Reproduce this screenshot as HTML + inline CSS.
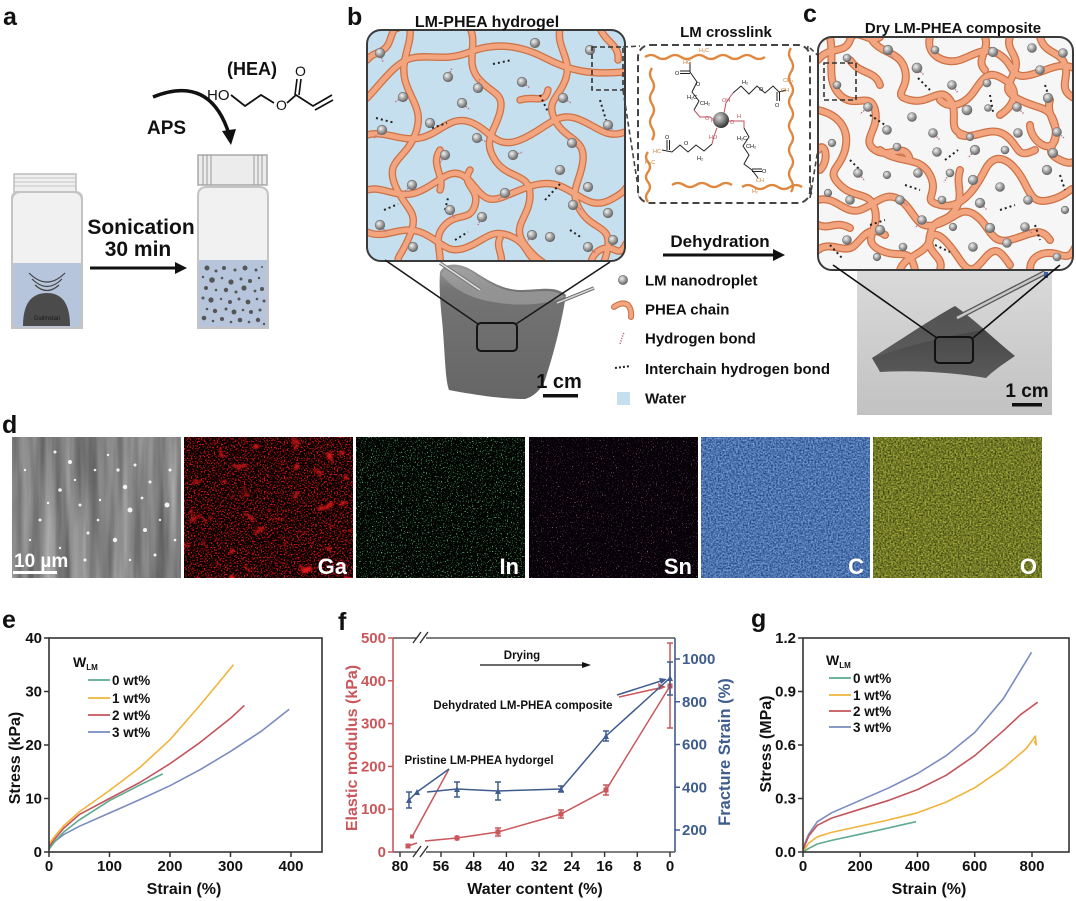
<!DOCTYPE html>
<html><head><meta charset="utf-8">
<style>
html,body{margin:0;padding:0;background:#fff;}
svg{display:block;}
text{font-family:"Liberation Sans",Arial,sans-serif;font-weight:bold;fill:#111;}
.ch{font-weight:normal;font-size:5.5px;}
</style></head>
<body>
<svg width="1076" height="901" viewBox="0 0 1076 901" xmlns="http://www.w3.org/2000/svg">
<defs>
<radialGradient id="sg" cx="0.38" cy="0.35" r="0.65">
<stop offset="0" stop-color="#f2f2f2"/><stop offset="0.55" stop-color="#a4a4a4"/><stop offset="1" stop-color="#666"/>
</radialGradient>
<radialGradient id="sg2" cx="0.38" cy="0.35" r="0.65">
<stop offset="0" stop-color="#d8d8d8"/><stop offset="0.5" stop-color="#888"/><stop offset="1" stop-color="#333"/>
</radialGradient>
<linearGradient id="gelg" x1="0" y1="0" x2="0" y2="1">
<stop offset="0" stop-color="#9c9c9c"/><stop offset="0.18" stop-color="#747474"/><stop offset="1" stop-color="#666"/>
</linearGradient>
<linearGradient id="phc" x1="0" y1="0" x2="0" y2="1">
<stop offset="0" stop-color="#dadada"/><stop offset="1" stop-color="#c2c2c2"/>
</linearGradient>
<linearGradient id="film" x1="0" y1="0" x2="0" y2="1">
<stop offset="0" stop-color="#3e3e3e"/><stop offset="1" stop-color="#5a5a5a"/>
</linearGradient>
<clipPath id="cb"><rect x="367" y="30" width="258" height="231" rx="14"/></clipPath>
<clipPath id="cc"><rect x="818" y="37" width="255" height="233" rx="14"/></clipPath>

<filter id="fSem" x="0" y="0" width="1" height="1" color-interpolation-filters="sRGB">
<feTurbulence type="fractalNoise" baseFrequency="0.09 0.006" numOctaves="3" seed="4"/>
<feColorMatrix type="matrix" values="0.45 0 0 0 0.29  0.45 0 0 0 0.29  0.45 0 0 0 0.29  0 0 0 0 1"/>
</filter>
<filter id="fGa" x="0" y="0" width="1" height="1" color-interpolation-filters="sRGB">
<feTurbulence type="fractalNoise" baseFrequency="0.7" numOctaves="1" seed="7" result="a"/>
<feColorMatrix in="a" type="matrix" values="0 0 0 0 0.85  0 0 0 0 0.08  0 0 0 0 0.1  6 0 0 0 -3.05" result="a2"/>
<feTurbulence type="fractalNoise" baseFrequency="0.08" numOctaves="2" seed="11" result="b"/>
<feColorMatrix in="b" type="matrix" values="0 0 0 0 0.9  0 0 0 0 0.1  0 0 0 0 0.1  5 0 0 0 -3.25" result="b2"/>
<feMerge><feMergeNode in="b2"/><feMergeNode in="a2"/></feMerge>
</filter>
<filter id="fIn" x="0" y="0" width="1" height="1" color-interpolation-filters="sRGB">
<feTurbulence type="fractalNoise" baseFrequency="0.8" numOctaves="1" seed="3"/>
<feColorMatrix type="matrix" values="0 0 0 0 0.4  0 0 0 0 0.8  0 0 0 0 0.5  7 0 0 0 -4.2"/>
</filter>
<filter id="fSn" x="0" y="0" width="1" height="1" color-interpolation-filters="sRGB">
<feTurbulence type="fractalNoise" baseFrequency="0.8" numOctaves="1" seed="9"/>
<feColorMatrix type="matrix" values="0 0 0 0 0.75  0 0 0 0 0.45  0 0 0 0 0.75  7 0 0 0 -4.5"/>
</filter>
<filter id="fC" x="0" y="0" width="1" height="1" color-interpolation-filters="sRGB">
<feTurbulence type="fractalNoise" baseFrequency="0.6" numOctaves="2" seed="5"/>
<feColorMatrix type="matrix" values="0.6 0 0 0 0  0.7 0 0 0 0.1  0.8 0 0 0 0.28  0 0 0 0 1"/>
</filter>
<filter id="fO" x="0" y="0" width="1" height="1" color-interpolation-filters="sRGB">
<feTurbulence type="fractalNoise" baseFrequency="0.6" numOctaves="2" seed="13"/>
<feColorMatrix type="matrix" values="0.85 0 0 0 0.02  0.85 0 0 0 0.05  0.3 0 0 0 0  0 0 0 0 1"/>
</filter>

<g id="netB">
<path d="M367,98 C380,85 395,62 412,58 S445,62 470,52 S520,45 545,58 S590,75 625,72"/>
<path d="M410,28 C412,45 400,60 405,80 S425,110 415,135 S385,160 395,185 S420,210 410,235 S395,255 400,267"/>
<path d="M367,135 C385,130 400,142 420,138 S450,115 470,122 S495,150 520,140 S555,112 575,118 S605,140 625,132"/>
<path d="M470,28 C478,45 465,62 478,78 S505,92 500,112 S482,140 495,160 S530,172 530,195 S510,225 525,245 S548,262 545,267"/>
<path d="M367,190 C382,185 398,200 418,192 S448,168 462,175 S480,205 500,198 S540,178 560,186 S590,210 610,200 S625,185 630,185"/>
<path d="M560,28 C556,48 572,58 566,78 S545,100 555,120 S585,138 583,160 S568,190 580,210 S610,225 608,245 S600,262 605,267"/>
<path d="M367,232 C385,240 400,225 420,232 S445,255 465,248 S490,228 510,236 S525,258 540,262"/>
<path d="M440,267 C442,250 432,238 445,225 S470,222 475,205 S460,185 470,170"/>
<path d="M590,267 C592,250 605,245 615,250 S625,240 630,240"/>
<path d="M600,28 C605,42 620,45 618,60"/>
<path d="M367,60 C375,50 385,55 390,40 S395,30 398,28"/>
<path d="M520,100 C535,95 545,105 548,90"/>
<path d="M440,150 C430,165 445,175 440,190"/>
<path d="M500,267 C505,255 495,248 500,238"/>
</g>
<g id="netC">
<path d="M818,60 C830,45 845,55 850,40 S870,45 880,37"/>
<path d="M830,37 C835,60 825,80 840,95 S870,90 875,110 S860,140 875,150 S905,140 910,160"/>
<path d="M870,37 C880,55 900,50 905,70 S890,95 910,100 S940,85 950,100 S945,130 965,135"/>
<path d="M930,37 C925,55 945,65 960,60 S985,45 1000,55 S1010,80 1030,75 S1060,60 1078,70"/>
<path d="M1010,37 C1005,50 1020,55 1015,70 S1000,90 1020,100 S1050,105 1055,125 S1040,150 1060,160 S1078,150 1078,150"/>
<path d="M818,110 C840,115 850,130 845,150 S825,170 840,185 S870,190 875,210 S860,240 880,250 S910,245 915,270"/>
<path d="M818,200 C835,195 845,215 860,210 S885,190 900,200 S915,230 935,225 S960,205 975,215 S990,245 1010,240 S1040,225 1050,240"/>
<path d="M880,150 C900,165 920,155 930,175 S920,200 940,205 S975,190 985,170 S1010,160 1020,175 S1030,205 1050,200 S1070,185 1078,190"/>
<path d="M960,135 C975,140 990,125 1005,135 S1015,160 1035,150"/>
<path d="M818,250 C830,240 845,255 855,245 S870,225 885,235"/>
<path d="M900,270 C905,255 925,255 930,240 S950,245 960,260 S975,270 985,258 S1000,250 1010,265"/>
<path d="M1030,270 C1030,255 1045,250 1060,255 S1073,245 1078,245"/>
<path d="M940,100 C950,110 965,105 975,90 S990,70 1005,80 S1015,105 1000,115"/>
<path d="M850,60 C860,75 875,70 880,85"/>
<path d="M1040,37 C1045,55 1060,50 1065,65 S1055,90 1078,100"/>
<path d="M818,150 C825,140 830,160 820,170"/>
<path d="M960,170 C955,185 965,195 955,210 S935,215 930,235 S945,255 940,270"/>
<path d="M1050,100 C1045,115 1060,125 1055,140 S1030,140 1030,125"/>
<path d="M985,37 C990,50 975,60 985,70"/>
<path d="M818,225 C830,230 835,220 850,228"/>
</g>
</defs>

<!-- ========== PANEL A ========== -->
<text x="3" y="25" font-size="25">a</text>
<text x="227" y="75" font-size="18">(HEA)</text>
<text x="207" y="100" font-size="15" style="font-weight:normal">HO</text>
<polyline points="231,95 245,106 261,95 274,103" fill="none" stroke="#111" stroke-width="1.8"/>
<text x="276" y="110" font-size="14" style="font-weight:normal">O</text>
<polyline points="287,103 296,95 313,106 332,95" fill="none" stroke="#111" stroke-width="1.8"/>
<line x1="295" y1="95" x2="297" y2="79" stroke="#111" stroke-width="1.6"/>
<line x1="299" y1="95" x2="301" y2="79" stroke="#111" stroke-width="1.6"/>
<text x="295" y="76" font-size="14" style="font-weight:normal">O</text>
<line x1="315" y1="110" x2="333" y2="100" stroke="#111" stroke-width="1.6"/>
<path d="M153,97 Q210,74 229,134" fill="none" stroke="#111" stroke-width="3.5"/>
<polygon points="222,131 236,129 231,145" fill="#111"/>
<text x="147" y="134" font-size="19">APS</text>

<!-- vial 1 -->
<rect x="14" y="174" width="62" height="18" fill="#efefef" stroke="#bdbdbd" stroke-width="1.5"/>
<line x1="14" y1="178" x2="76" y2="178" stroke="#c4c4c4"/>
<line x1="14" y1="182" x2="76" y2="182" stroke="#c4c4c4"/>
<line x1="14" y1="186" x2="76" y2="186" stroke="#c4c4c4"/>
<path d="M12,201 Q12,192 21,192 L73,192 Q82,192 82,201 L82,328 L12,328 Z" fill="#f1f1f1" stroke="#c4c4c4" stroke-width="2"/>
<rect x="13" y="263" width="68" height="64" fill="#b6c5dc"/>
<path d="M23,326 Q23,293 47,293 Q70,293 70,326 Z" fill="#4b4b4b"/>
<text x="47" y="320" font-size="6" text-anchor="middle" style="font-weight:normal;fill:#1a1a1a">Gallinstan</text>
<path d="M29,273 Q47,291 65,273" fill="none" stroke="#444" stroke-width="1.2"/>
<path d="M32,279 Q47,294 62,279" fill="none" stroke="#444" stroke-width="1.2"/>
<path d="M35,285 Q47,296 59,285" fill="none" stroke="#444" stroke-width="1.2"/>
<rect x="12" y="192" width="70" height="136" fill="none" stroke="#c4c4c4" stroke-width="2" rx="6"/>

<!-- arrow sonication -->
<line x1="90" y1="268" x2="177" y2="268" stroke="#111" stroke-width="3"/>
<polygon points="175,262 187,268 175,274" fill="#111"/>
<text x="141" y="234" font-size="21" text-anchor="middle">Sonication</text>
<text x="138" y="256" font-size="21" text-anchor="middle">30 min</text>

<!-- vial 2 -->
<rect x="198" y="155" width="69" height="30" fill="#ececec" stroke="#a8a8a8" stroke-width="1.5"/>
<g stroke="#9a9a9a" stroke-width="1">
<line x1="203" y1="155" x2="203" y2="185"/><line x1="207" y1="155" x2="207" y2="185"/><line x1="211" y1="155" x2="211" y2="185"/>
<line x1="254" y1="155" x2="254" y2="185"/><line x1="258" y1="155" x2="258" y2="185"/><line x1="262" y1="155" x2="262" y2="185"/>
</g>
<path d="M198,196 Q198,187 207,187 L259,187 Q268,187 268,196 L268,328 L198,328 Z" fill="#f1f1f1" stroke="#c4c4c4" stroke-width="2"/>
<rect x="199" y="260" width="68" height="67" fill="#b6c5dc"/>
<g fill="#555">
<circle cx="207" cy="268" r="2.5"/><circle cx="216" cy="271" r="1.5"/><circle cx="224" cy="268" r="2"/><circle cx="235" cy="270" r="1.5"/><circle cx="245" cy="268" r="2.5"/><circle cx="256" cy="270" r="1.5"/><circle cx="262" cy="267" r="1"/>
<circle cx="203" cy="277" r="1.2"/><circle cx="212" cy="280" r="2.8"/><circle cx="222" cy="278" r="1.3"/><circle cx="231" cy="282" r="2.6"/><circle cx="241" cy="279" r="1.5"/><circle cx="250" cy="281" r="2"/><circle cx="259" cy="278" r="1.2"/>
<circle cx="206" cy="288" r="2"/><circle cx="216" cy="290" r="1.3"/><circle cx="226" cy="290" r="2.2"/><circle cx="236" cy="292" r="1.5"/><circle cx="244" cy="288" r="2.6"/><circle cx="255" cy="291" r="1.4"/><circle cx="262" cy="289" r="2"/>
<circle cx="203" cy="298" r="1.5"/><circle cx="211" cy="300" r="2.6"/><circle cx="221" cy="299" r="1.2"/><circle cx="230" cy="302" r="2"/><circle cx="239" cy="299" r="1.5"/><circle cx="248" cy="302" r="2.4"/><circle cx="257" cy="299" r="1.3"/><circle cx="264" cy="301" r="1.5"/>
<circle cx="207" cy="309" r="1.3"/><circle cx="215" cy="311" r="2.2"/><circle cx="226" cy="309" r="1.5"/><circle cx="234" cy="312" r="2.5"/><circle cx="243" cy="310" r="1.3"/><circle cx="251" cy="312" r="2"/><circle cx="260" cy="310" r="1.5"/>
<circle cx="204" cy="318" r="2.3"/><circle cx="213" cy="321" r="1.3"/><circle cx="222" cy="319" r="2"/><circle cx="231" cy="322" r="1.3"/><circle cx="240" cy="320" r="2.3"/><circle cx="249" cy="322" r="1.3"/><circle cx="258" cy="320" r="2.2"/><circle cx="264" cy="324" r="1.2"/>
</g>

<!-- ========== PANEL B ========== -->
<text x="347" y="25" font-size="25">b</text>

<!-- gel photo -->
<path d="M440,272 C445,262 460,262 475,272 C490,282 505,290 520,290 C540,290 555,285 566,295 C562,320 555,350 545,380 C540,392 532,397 525,399 C500,399 470,394 449,390 C445,380 445,350 442,320 C440,300 439,285 440,272 Z" fill="url(#gelg)"/>
<path d="M441,274 C447,265 460,265 475,274 C490,284 505,292 520,292 C540,292 555,288 565,297 C545,305 520,306 500,303 C475,300 455,292 441,274 Z" fill="#a8a8a8" opacity="0.6"/>
<line x1="440" y1="263" x2="480" y2="290" stroke="#777" stroke-width="3.5"/>
<line x1="440" y1="263" x2="480" y2="290" stroke="#e0e0e0" stroke-width="1.6"/>
<line x1="594" y1="288" x2="557" y2="303" stroke="#666" stroke-width="3.5"/>
<line x1="594" y1="288" x2="557" y2="303" stroke="#d6d6d6" stroke-width="1.6"/>

<rect x="367" y="30" width="258" height="231" rx="14" fill="#c6dfee"/>
<g clip-path="url(#cb)">
<use href="#netB" fill="none" stroke="#cc7246" stroke-width="7.5" stroke-linecap="round"/>
<use href="#netB" fill="none" stroke="#f3a580" stroke-width="5" stroke-linecap="round"/>
<g stroke="#b9788c" stroke-width="1.6" stroke-dasharray="1.3 1.3">
<line x1="380" y1="53" x2="383" y2="62"/><line x1="448" y1="77" x2="452" y2="68"/><line x1="403" y1="97" x2="395" y2="102"/>
<line x1="478" y1="88" x2="480" y2="79"/><line x1="522" y1="82" x2="530" y2="88"/><line x1="563" y1="98" x2="571" y2="103"/>
<line x1="462" y1="103" x2="470" y2="110"/><line x1="382" y1="130" x2="374" y2="138"/><line x1="477" y1="138" x2="487" y2="142"/>
<line x1="572" y1="143" x2="580" y2="150"/><line x1="445" y1="155" x2="440" y2="163"/><line x1="513" y1="155" x2="523" y2="152"/>
<line x1="412" y1="185" x2="404" y2="192"/><line x1="505" y1="193" x2="498" y2="200"/><line x1="450" y1="210" x2="455" y2="219"/>
<line x1="573" y1="205" x2="582" y2="210"/><line x1="380" y1="225" x2="387" y2="233"/><line x1="482" y1="217" x2="478" y2="225"/>
<line x1="532" y1="235" x2="526" y2="243"/><line x1="588" y1="247" x2="596" y2="253"/><line x1="608" y1="125" x2="615" y2="132"/>
</g>
<g stroke="#222" stroke-width="2" stroke-dasharray="2 3">
<line x1="493" y1="64" x2="512" y2="60"/><line x1="376" y1="118" x2="395" y2="123"/><line x1="540" y1="95" x2="548" y2="112"/>
<line x1="432" y1="128" x2="447" y2="123"/><line x1="600" y1="100" x2="606" y2="120"/><line x1="545" y1="200" x2="560" y2="184"/>
<line x1="384" y1="210" x2="398" y2="204"/><line x1="455" y1="240" x2="468" y2="232"/><line x1="570" y1="230" x2="582" y2="238"/>
<line x1="445" y1="210" x2="448" y2="198"/>
</g>
<g fill="url(#sg)" stroke="#6a6a6a" stroke-width="0.6">
<circle cx="380" cy="53" r="4.8"/><circle cx="535" cy="43" r="4.8"/><circle cx="448" cy="77" r="4.8"/><circle cx="403" cy="97" r="4.8"/>
<circle cx="478" cy="88" r="4.8"/><circle cx="522" cy="82" r="4.8"/><circle cx="563" cy="98" r="4.8"/><circle cx="462" cy="103" r="4.8"/>
<circle cx="382" cy="130" r="4.8"/><circle cx="430" cy="123" r="4.8"/><circle cx="477" cy="138" r="4.8"/><circle cx="572" cy="143" r="4.8"/>
<circle cx="608" cy="125" r="4.8"/><circle cx="445" cy="155" r="4.8"/><circle cx="513" cy="155" r="4.8"/><circle cx="412" cy="185" r="4.8"/>
<circle cx="505" cy="193" r="4.8"/><circle cx="450" cy="210" r="4.8"/><circle cx="573" cy="205" r="4.8"/><circle cx="588" cy="187" r="4.8"/>
<circle cx="380" cy="225" r="4.8"/><circle cx="413" cy="247" r="4.8"/><circle cx="482" cy="217" r="4.8"/><circle cx="532" cy="235" r="4.8"/>
<circle cx="550" cy="237" r="4.8"/><circle cx="588" cy="247" r="4.8"/><circle cx="613" cy="240" r="4.8"/><circle cx="560" cy="170" r="4.8"/>
<circle cx="608" cy="213" r="4.8"/><circle cx="590" cy="50" r="4.8"/>
</g>
<rect x="592" y="47" width="31" height="43" fill="none" stroke="#333" stroke-width="1.6" stroke-dasharray="5 3"/>
</g>
<rect x="367" y="30" width="258" height="231" rx="14" fill="none" stroke="#3a3a3a" stroke-width="2"/>
<rect x="420" y="12" width="134" height="17" fill="#fff"/>
<text x="487" y="27" font-size="16" text-anchor="middle">LM-PHEA hydrogel</text>
<line x1="385" y1="260" x2="478" y2="324" stroke="#1a1a1a" stroke-width="1.6"/>
<line x1="610" y1="262" x2="516" y2="324" stroke="#1a1a1a" stroke-width="1.6"/>
<rect x="477" y="323" width="40" height="28" rx="4" fill="none" stroke="#151515" stroke-width="2"/>
<text x="559" y="388" font-size="20" text-anchor="middle">1 cm</text>
<rect x="543" y="394" width="35" height="3.5" fill="#111"/>

<!-- crosslink -->
<text x="726" y="37" font-size="15" text-anchor="middle">LM crosslink</text>
<line x1="623" y1="47" x2="640" y2="46" stroke="#444" stroke-width="1.6" stroke-dasharray="5 3"/>
<line x1="623" y1="90" x2="640" y2="200" stroke="#444" stroke-width="1.6" stroke-dasharray="5 3"/>
<path d="M808,46 Q798,120 812,197" fill="none" stroke="#444" stroke-width="1.6" stroke-dasharray="5 3"/>
<line x1="810" y1="48" x2="826" y2="63" stroke="#444" stroke-width="1.6" stroke-dasharray="5 3"/>
<line x1="810" y1="198" x2="826" y2="100" stroke="#444" stroke-width="1.6" stroke-dasharray="5 3"/>
<rect x="638" y="45" width="172" height="158" rx="12" fill="#fff" stroke="#444" stroke-width="2" stroke-dasharray="7 4"/>
<g fill="none" stroke="#e0873f" stroke-width="2.3">
<path d="M645,57 q6,-4 12,0 t12,0 t12,0 t12,0 t12,0 t12,0 t12,0 t12,0 t12,0 t12,0"/>
<path d="M791,48 q-4,6 0,12 t0,12 t0,12 t0,12 t0,12 t0,12 t0,12 t0,12 t0,12 t0,12 t0,12 t0,12"/>
<path d="M652,68 q-4,6 0,12 t0,12 t0,12 t0,12 t0,12 t0,12"/>
<path d="M648,152 q-4,5 0,10 t0,10 t0,10 t0,10 t0,10"/>
<path d="M672,185 q6,-4 12,0 t12,0 t12,0 t12,0 t12,0"/>
<path d="M742,187 q6,-4 12,0 t12,0 t12,0 t12,0 t12,0"/>
</g>
<g fill="none" stroke="#222" stroke-width="1">
<polyline points="690,62 690,72 697,82 692,92 699,101 694,110"/>
<line x1="680" y1="71" x2="690" y2="71"/><line x1="680" y1="73.5" x2="690" y2="73.5"/>
<polyline points="733,93 741,86 749,94 757,86 765,93 773,86 779,92 786,90"/>
<line x1="777" y1="92" x2="777" y2="101"/><line x1="779.5" y1="92" x2="779.5" y2="101"/>
<polyline points="744,128 749,137 743,146 749,155 744,164 752,170 758,178"/>
<line x1="752" y1="169" x2="762" y2="169"/><line x1="752" y1="171.5" x2="762" y2="171.5"/>
<polyline points="712,144 704,151 696,145 688,152 680,145 672,152 662,150"/>
<line x1="667" y1="140" x2="667" y2="150"/><line x1="669.5" y1="140" x2="669.5" y2="150"/>
</g>
<g fill="none" stroke="#c05060" stroke-width="1">
<polyline points="694,110 700,117 710,117 714,120"/>
<polyline points="724,113 726,103 730,97 733,93"/>
<polyline points="729,121 738,121 744,121 744,128"/>
<polyline points="717,128 714,136 712,144"/>
</g>
<circle cx="721" cy="120" r="8" fill="url(#sg2)"/>
<g class="ch">
<text x="683" y="64" class="ch" style="fill:#d0802f">HC</text>
<text x="699" y="52" class="ch" style="fill:#d0802f">H₂C</text>
<text x="783" y="82" class="ch" style="fill:#d0802f">CH₃</text>
<text x="781" y="92" class="ch" style="fill:#d0802f">CH</text>
<text x="653" y="153" class="ch" style="fill:#d0802f">HC</text>
<text x="645" y="164" class="ch" style="fill:#d0802f">H₃C</text>
<text x="756" y="182" class="ch" style="fill:#d0802f">CH</text>
<text x="752" y="193" class="ch" style="fill:#d0802f">H₂</text>
<text x="675" y="75" class="ch">O</text>
<text x="696" y="86" class="ch">O</text>
<text x="687" y="99" class="ch">H₂C</text>
<text x="700" y="105" class="ch">CH₂</text>
<text x="742" y="84" class="ch">H₂</text>
<text x="759" y="91" class="ch">O</text>
<text x="775" y="107" class="ch">O</text>
<text x="746" y="148" class="ch">CH₂</text>
<text x="737" y="140" class="ch">H₂C</text>
<text x="762" y="173" class="ch">O</text>
<text x="697" y="160" class="ch">H₂</text>
<text x="665" y="139" class="ch">O</text>
<text x="684" y="145" class="ch">O</text>
<text x="711" y="122" class="ch" style="fill:#c05060">H</text>
<text x="705" y="120" class="ch" style="fill:#c05060">O</text>
<text x="722" y="102" class="ch" style="fill:#c05060">OH</text>
<text x="730" y="124" class="ch" style="fill:#c05060">O</text>
<text x="737" y="118" class="ch" style="fill:#c05060">H</text>
<text x="709" y="139" class="ch" style="fill:#c05060">HO</text>
</g>

<text x="720" y="247" font-size="17" text-anchor="middle">Dehydration</text>
<line x1="663" y1="255" x2="775" y2="255" stroke="#111" stroke-width="3"/>
<polygon points="773,249 785,255 773,261" fill="#111"/>

<!-- legend -->
<circle cx="623" cy="280" r="4.6" fill="url(#sg)" stroke="#666" stroke-width="0.6"/>
<text x="645" y="285.5" font-size="15">LM nanodroplet</text>
<path d="M614,307 Q622,301 628,305 Q632,310 631,317" fill="none" stroke="#cc7246" stroke-width="6" stroke-linecap="round"/>
<path d="M614,307 Q622,301 628,305 Q632,310 631,317" fill="none" stroke="#f3a580" stroke-width="3.8" stroke-linecap="round"/>
<text x="645" y="314.5" font-size="15">PHEA chain</text>
<line x1="620" y1="344" x2="624" y2="332" stroke="#b9788c" stroke-width="1.6" stroke-dasharray="1.3 1.3"/>
<text x="645" y="343.5" font-size="15">Hydrogen bond</text>
<line x1="615" y1="368" x2="631" y2="366" stroke="#222" stroke-width="2" stroke-dasharray="2 2"/>
<text x="645" y="374" font-size="15">Interchain hydrogen bond</text>
<rect x="617" y="392" width="13" height="13" fill="#c6dfee"/>
<text x="645" y="403.5" font-size="15">Water</text>

<!-- ========== PANEL C ========== -->
<text x="803" y="22" font-size="25">c</text>
<text x="953" y="33" font-size="15" text-anchor="middle">Dry LM-PHEA composite</text>
<rect x="857" y="268" width="195" height="147" fill="url(#phc)"/>
<path d="M872,358 C900,340 930,320 955,306 C975,320 995,340 1015,356 C1003,364 993,371 986,378 C950,372 912,370 880,372 C877,366 874,362 872,358 Z" fill="url(#film)"/>
<path d="M872,358 C900,340 930,320 955,306 C965,313 975,321 985,330 C950,335 910,345 872,358 Z" fill="#666" opacity="0.5"/>
<line x1="957" y1="318" x2="1046" y2="272" stroke="#555" stroke-width="5"/>
<line x1="957" y1="318" x2="1046" y2="272" stroke="#c8c8c8" stroke-width="2.5"/>
<rect x="1044" y="272" width="4" height="6" fill="#3b5fa0"/>
<rect x="818" y="37" width="255" height="233" rx="14" fill="#f6f6f6"/>
<g clip-path="url(#cc)">
<use href="#netC" fill="none" stroke="#cc7246" stroke-width="8" stroke-linecap="round"/>
<use href="#netC" fill="none" stroke="#f3a580" stroke-width="5.5" stroke-linecap="round"/>
<g stroke="#222" stroke-width="2" stroke-dasharray="2 3">
<line x1="870" y1="115" x2="885" y2="125"/><line x1="918" y1="78" x2="930" y2="90"/><line x1="990" y1="95" x2="993" y2="112"/>
<line x1="1045" y1="85" x2="1050" y2="100"/><line x1="850" y1="160" x2="862" y2="172"/><line x1="905" y1="185" x2="920" y2="190"/>
<line x1="945" y1="160" x2="958" y2="150"/><line x1="1000" y1="210" x2="1015" y2="205"/><line x1="870" y1="225" x2="885" y2="220"/>
<line x1="935" y1="245" x2="950" y2="252"/><line x1="1035" y1="225" x2="1040" y2="240"/><line x1="1060" y1="175" x2="1065" y2="190"/>
<line x1="830" y1="245" x2="842" y2="258"/>
</g>
<g stroke="#b9788c" stroke-width="1.5" stroke-dasharray="1.3 1.3">
<line x1="888" y1="50" x2="893" y2="58"/><line x1="917" y1="68" x2="924" y2="75"/><line x1="952" y1="85" x2="958" y2="93"/>
<line x1="868" y1="107" x2="860" y2="114"/><line x1="933" y1="133" x2="940" y2="140"/><line x1="975" y1="150" x2="968" y2="158"/>
<line x1="858" y1="173" x2="865" y2="181"/><line x1="950" y1="173" x2="944" y2="182"/><line x1="900" y1="200" x2="908" y2="206"/>
<line x1="980" y1="203" x2="987" y2="210"/><line x1="922" y1="220" x2="915" y2="228"/><line x1="1025" y1="227" x2="1032" y2="233"/>
<line x1="1017" y1="107" x2="1024" y2="114"/><line x1="1057" y1="132" x2="1064" y2="138"/>
</g>
<g fill="url(#sg)" stroke="#6a6a6a" stroke-width="0.6">
<circle cx="888" cy="50" r="4.8"/><circle cx="935" cy="50" r="4"/><circle cx="993" cy="52" r="4.8"/><circle cx="1032" cy="48" r="4.5"/>
<circle cx="1063" cy="53" r="4.5"/><circle cx="847" cy="58" r="4"/><circle cx="917" cy="68" r="5"/><circle cx="952" cy="85" r="4.5"/>
<circle cx="987" cy="83" r="4"/><circle cx="1040" cy="70" r="4.5"/><circle cx="837" cy="85" r="4"/><circle cx="868" cy="107" r="4.5"/>
<circle cx="912" cy="117" r="4.5"/><circle cx="967" cy="110" r="5"/><circle cx="988" cy="108" r="3.5"/><circle cx="1017" cy="107" r="4.5"/>
<circle cx="1048" cy="98" r="4.8"/><circle cx="887" cy="130" r="4.5"/><circle cx="933" cy="133" r="4.5"/><circle cx="970" cy="137" r="3.8"/>
<circle cx="1018" cy="133" r="4.5"/><circle cx="1057" cy="132" r="4.5"/><circle cx="832" cy="143" r="3.8"/><circle cx="897" cy="147" r="4"/>
<circle cx="937" cy="152" r="4.5"/><circle cx="975" cy="150" r="4.8"/><circle cx="1005" cy="150" r="4"/><circle cx="1053" cy="153" r="4.8"/>
<circle cx="858" cy="173" r="4.5"/><circle cx="887" cy="175" r="3.8"/><circle cx="918" cy="173" r="4.5"/><circle cx="950" cy="173" r="4"/>
<circle cx="973" cy="180" r="4.8"/><circle cx="1000" cy="187" r="4.5"/><circle cx="1047" cy="170" r="4.8"/><circle cx="828" cy="193" r="3.8"/>
<circle cx="850" cy="200" r="4.5"/><circle cx="900" cy="200" r="4.5"/><circle cx="942" cy="200" r="4"/><circle cx="980" cy="203" r="4.8"/>
<circle cx="1028" cy="200" r="4.5"/><circle cx="1065" cy="210" r="3.8"/><circle cx="880" cy="230" r="4.8"/><circle cx="922" cy="220" r="4.5"/>
<circle cx="953" cy="227" r="3.8"/><circle cx="990" cy="228" r="4.8"/><circle cx="1025" cy="227" r="4.5"/><circle cx="847" cy="240" r="4.5"/>
<circle cx="903" cy="247" r="4"/><circle cx="973" cy="247" r="4.5"/><circle cx="1007" cy="243" r="4.5"/><circle cx="1057" cy="257" r="4"/>
<circle cx="877" cy="257" r="3.8"/>
</g>
<rect x="824" y="63" width="32" height="37" fill="none" stroke="#333" stroke-width="1.6" stroke-dasharray="5 3"/>
</g>
<rect x="818" y="37" width="255" height="233" rx="14" fill="none" stroke="#3a3a3a" stroke-width="2"/>
<line x1="833" y1="265" x2="937" y2="338" stroke="#111" stroke-width="1.6"/>
<line x1="1060" y1="265" x2="973" y2="338" stroke="#111" stroke-width="1.6"/>
<rect x="935" y="337" width="38" height="26" rx="4" fill="none" stroke="#111" stroke-width="2"/>
<text x="1027" y="397" font-size="19" text-anchor="middle">1 cm</text>
<rect x="1012" y="403" width="30" height="3.5" fill="#111"/>

<!-- ========== PANEL D ========== -->
<text x="2" y="433" font-size="25">d</text>
<rect x="12" y="437" width="169" height="141" filter="url(#fSem)"/>
<g fill="#fff" opacity="0.9">
<circle cx="55" cy="452" r="1.5"/><circle cx="70" cy="462" r="2"/><circle cx="95" cy="470" r="1.3"/><circle cx="135" cy="465" r="1.5"/>
<circle cx="125" cy="487" r="2.2"/><circle cx="150" cy="482" r="1.5"/><circle cx="60" cy="490" r="1.8"/><circle cx="80" cy="505" r="1.5"/>
<circle cx="100" cy="500" r="1.2"/><circle cx="130" cy="510" r="2.5"/><circle cx="145" cy="530" r="2"/><circle cx="167" cy="505" r="2.5"/>
<circle cx="40" cy="520" r="1.5"/><circle cx="115" cy="540" r="2.2"/><circle cx="88" cy="533" r="1.5"/><circle cx="60" cy="548" r="1.2"/>
<circle cx="155" cy="555" r="1.5"/><circle cx="130" cy="560" r="1.2"/><circle cx="25" cy="470" r="1.2"/><circle cx="170" cy="470" r="1.5"/>
<circle cx="108" cy="455" r="1.2"/><circle cx="48" cy="503" r="1.2"/><circle cx="175" cy="540" r="1.3"/><circle cx="142" cy="498" r="1.4"/>
<circle cx="98" cy="520" r="1.3"/><circle cx="75" cy="480" r="1.2"/><circle cx="118" cy="470" r="1.6"/><circle cx="160" cy="520" r="1.2"/>
<circle cx="30" cy="540" r="1.2"/><circle cx="85" cy="560" r="1.5"/>
</g>
<text x="14" y="567" font-size="19" style="fill:#fff">10 µm</text>
<rect x="13" y="571" width="44" height="3" fill="#fff"/>

<rect x="184" y="437" width="169" height="141" fill="#050000"/>
<rect x="184" y="437" width="169" height="141" filter="url(#fGa)"/>
<text x="347" y="574" font-size="22" text-anchor="end" style="fill:#fff">Ga</text>

<rect x="356" y="437" width="169" height="141" fill="#020402"/>
<rect x="356" y="437" width="169" height="141" filter="url(#fIn)"/>
<text x="519" y="574" font-size="22" text-anchor="end" style="fill:#fff">In</text>

<rect x="529" y="437" width="169" height="141" fill="#070207"/>
<rect x="529" y="437" width="169" height="141" filter="url(#fSn)"/>
<text x="692" y="574" font-size="22" text-anchor="end" style="fill:#fff">Sn</text>

<rect x="701" y="437" width="169" height="141" filter="url(#fC)"/>
<text x="864" y="574" font-size="22" text-anchor="end" style="fill:#fff">C</text>

<rect x="873" y="437" width="169" height="141" filter="url(#fO)"/>
<text x="1037" y="574" font-size="22" text-anchor="end" style="fill:#fff">O</text>

<!-- ========== PANEL E ========== -->
<text x="2" y="628" font-size="25">e</text>
<g stroke="#333" stroke-width="1.5">
<line x1="49" y1="852" x2="49" y2="857"/><line x1="109.5" y1="852" x2="109.5" y2="857"/><line x1="170" y1="852" x2="170" y2="857"/><line x1="230.5" y1="852" x2="230.5" y2="857"/><line x1="291" y1="852" x2="291" y2="857"/>
<line x1="44" y1="852" x2="49" y2="852"/><line x1="44" y1="798.5" x2="49" y2="798.5"/><line x1="44" y1="745" x2="49" y2="745"/><line x1="44" y1="691.5" x2="49" y2="691.5"/><line x1="44" y1="638" x2="49" y2="638"/>
</g>
<g font-size="15" text-anchor="end">
<text x="42" y="857">0</text><text x="42" y="803.5">10</text><text x="42" y="750">20</text><text x="42" y="696.5">30</text><text x="42" y="643">40</text>
</g>
<g font-size="15" text-anchor="middle">
<text x="49" y="871">0</text><text x="109.5" y="871">100</text><text x="170" y="871">200</text><text x="230.5" y="871">300</text><text x="291" y="871">400</text>
</g>
<text x="184" y="894" font-size="16" text-anchor="middle">Strain (%)</text>
<text transform="translate(20,758) rotate(-90)" font-size="16" text-anchor="middle">Stress (kPa)</text>
<g fill="none" stroke-width="1.6" stroke-linejoin="round">
<polyline stroke="#7a8cc0" points="49,847.7 55,841.3 64.1,834.3 79.3,826.3 109.5,813 139.8,799.6 170,785.7 200.3,769.6 230.5,751.4 260.8,731.6 289.2,709.2"/>
<polyline stroke="#c4545c" points="49,846.7 55,838.6 64.1,827.9 79.3,814.6 109.5,798.5 139.8,782.5 170,763.7 200.3,742.3 230.5,718.3 244.4,705.4"/>
<polyline stroke="#f0b43c" points="49,844 55,836 64.1,825.3 79.3,811.9 109.5,790.5 139.8,767.5 170,739.7 200.3,704.9 233.5,664.8"/>
<polyline stroke="#5daa8e" points="49,849.3 55,841.3 64.1,831.7 79.3,819.9 109.5,800.6 139.8,785.1 162.7,773.9"/>
</g>
<rect x="49" y="638" width="273" height="214" fill="none" stroke="#333" stroke-width="1.6"/>
<text x="73" y="667" font-size="14">W<tspan font-size="8" dy="3">LM</tspan></text>
<g stroke-width="1.8">
<line x1="88" y1="680" x2="110" y2="680" stroke="#5daa8e"/>
<line x1="88" y1="698" x2="110" y2="698" stroke="#f0b43c"/>
<line x1="88" y1="715" x2="110" y2="715" stroke="#c4545c"/>
<line x1="88" y1="732" x2="110" y2="732" stroke="#7a8cc0"/>
</g>
<g font-size="13.5">
<text x="112" y="685">0 wt%</text><text x="112" y="703">1 wt%</text><text x="112" y="720">2 wt%</text><text x="112" y="737">3 wt%</text>
</g>

<!-- ========== PANEL F ========== -->
<text x="338" y="630" font-size="25">f</text>
<line x1="393" y1="638" x2="675" y2="638" stroke="#555" stroke-width="1.5"/>
<line x1="393" y1="852" x2="675" y2="852" stroke="#555" stroke-width="1.5"/>
<line x1="393" y1="638" x2="393" y2="852" stroke="#c9575b" stroke-width="1.6"/>
<line x1="675" y1="638" x2="675" y2="852" stroke="#3e5c8e" stroke-width="1.6"/>
<rect x="417" y="634" width="9" height="8" fill="#fff"/>
<rect x="417" y="848" width="9" height="8" fill="#fff"/>
<g stroke="#333" stroke-width="1.4">
<line x1="413" y1="643" x2="421" y2="632"/><line x1="420" y1="643" x2="428" y2="632"/>
<line x1="413" y1="857" x2="421" y2="846"/><line x1="420" y1="857" x2="428" y2="846"/>
</g>
<g stroke="#c9575b" stroke-width="1.5">
<line x1="388" y1="852" x2="393" y2="852"/><line x1="388" y1="809.2" x2="393" y2="809.2"/><line x1="388" y1="766.4" x2="393" y2="766.4"/><line x1="388" y1="723.6" x2="393" y2="723.6"/><line x1="388" y1="680.8" x2="393" y2="680.8"/><line x1="388" y1="638" x2="393" y2="638"/>
</g>
<g font-size="15" text-anchor="end">
<text x="386" y="857" style="fill:#c9575b">0</text><text x="386" y="814.2" style="fill:#c9575b">100</text><text x="386" y="771.4" style="fill:#c9575b">200</text><text x="386" y="728.6" style="fill:#c9575b">300</text><text x="386" y="685.8" style="fill:#c9575b">400</text><text x="386" y="643" style="fill:#c9575b">500</text>
</g>
<g stroke="#3e5c8e" stroke-width="1.5">
<line x1="675" y1="830" x2="680" y2="830"/><line x1="675" y1="787.25" x2="680" y2="787.25"/><line x1="675" y1="744.5" x2="680" y2="744.5"/><line x1="675" y1="701.75" x2="680" y2="701.75"/><line x1="675" y1="659" x2="680" y2="659"/>
</g>
<g font-size="15">
<text x="682" y="835" style="fill:#3e5c8e">200</text><text x="682" y="792.25" style="fill:#3e5c8e">400</text><text x="682" y="749.5" style="fill:#3e5c8e">600</text><text x="682" y="706.75" style="fill:#3e5c8e">800</text><text x="682" y="664" style="fill:#3e5c8e">1000</text>
</g>
<g stroke="#333" stroke-width="1.4">
<line x1="400" y1="852" x2="400" y2="857"/><line x1="441" y1="852" x2="441" y2="857"/><line x1="473.7" y1="852" x2="473.7" y2="857"/><line x1="506.4" y1="852" x2="506.4" y2="857"/><line x1="539.1" y1="852" x2="539.1" y2="857"/><line x1="571.8" y1="852" x2="571.8" y2="857"/><line x1="604.6" y1="852" x2="604.6" y2="857"/><line x1="637.3" y1="852" x2="637.3" y2="857"/><line x1="670" y1="852" x2="670" y2="857"/>
</g>
<g font-size="15" text-anchor="middle">
<text x="400" y="871">80</text><text x="441" y="871">56</text><text x="473.7" y="871">48</text><text x="506.4" y="871">40</text><text x="539.1" y="871">32</text><text x="571.8" y="871">24</text><text x="604.6" y="871">16</text><text x="637.3" y="871">8</text><text x="670" y="871">0</text>
</g>
<text x="535" y="894" font-size="16" text-anchor="middle">Water content (%)</text>
<text transform="translate(357,748) rotate(-90)" font-size="16" text-anchor="middle" style="fill:#c9575b">Elastic modulus (kPa)</text>
<text transform="translate(730,752) rotate(-90)" font-size="16.5" text-anchor="middle" style="fill:#3e5c8e">Fracture Strain (%)</text>

<!-- red series -->
<g stroke="#c9575b" stroke-width="1.5" fill="none">
<line x1="408" y1="846" x2="417" y2="843"/>
<polyline points="425,841 457,838 498,832 561,814 606,790 670,686"/>
<line x1="412" y1="837" x2="449" y2="769"/>
<line x1="619" y1="697" x2="664" y2="687"/>
<line x1="457" y1="835" x2="457" y2="841"/><line x1="498" y1="828" x2="498" y2="836"/><line x1="561" y1="810" x2="561" y2="818"/>
<line x1="606" y1="785" x2="606" y2="795"/><line x1="603" y1="785" x2="609" y2="785"/><line x1="603" y1="795" x2="609" y2="795"/>
<line x1="670" y1="643" x2="670" y2="728"/><line x1="667" y1="643" x2="673" y2="643"/><line x1="667" y1="728" x2="673" y2="728"/>
<line x1="495" y1="828" x2="501" y2="828"/><line x1="495" y1="836" x2="501" y2="836"/>
<line x1="558" y1="810" x2="564" y2="810"/><line x1="558" y1="818" x2="564" y2="818"/>
</g>
<polygon points="666,687 658,683 659,690" fill="#c9575b"/>
<g fill="#c9575b">
<rect x="405.5" y="843.5" width="5" height="5"/><rect x="410" y="834.5" width="4" height="4"/><rect x="454.5" y="835.5" width="5" height="5"/>
<rect x="495.5" y="829.5" width="5" height="5"/><rect x="558.5" y="811.5" width="5" height="5"/><rect x="603.5" y="787.5" width="5" height="5"/><rect x="667.5" y="683.5" width="5" height="5"/>
</g>
<!-- blue series -->
<g stroke="#3e5c8e" stroke-width="1.5" fill="none">
<line x1="409" y1="800" x2="417" y2="792"/>
<polyline points="427,792 457,789 498,791 561,789 606,736 670,678"/>
<line x1="417" y1="792" x2="449" y2="769"/>
<line x1="617" y1="695" x2="664" y2="680"/>
<line x1="409" y1="792" x2="409" y2="808"/><line x1="406" y1="792" x2="412" y2="792"/><line x1="406" y1="808" x2="412" y2="808"/>
<line x1="457" y1="782" x2="457" y2="797"/><line x1="454" y1="782" x2="460" y2="782"/><line x1="454" y1="797" x2="460" y2="797"/>
<line x1="498" y1="782" x2="498" y2="800"/><line x1="495" y1="782" x2="501" y2="782"/><line x1="495" y1="800" x2="501" y2="800"/>
<line x1="561" y1="786" x2="561" y2="792"/><line x1="558" y1="786" x2="564" y2="786"/><line x1="558" y1="792" x2="564" y2="792"/>
<line x1="606" y1="731" x2="606" y2="741"/><line x1="603" y1="731" x2="609" y2="731"/><line x1="603" y1="741" x2="609" y2="741"/>
<line x1="670" y1="662" x2="670" y2="695"/><line x1="667" y1="662" x2="673" y2="662"/><line x1="667" y1="695" x2="673" y2="695"/>
</g>
<polygon points="667,679 659,678 661,684" fill="#3e5c8e"/>
<g fill="#3e5c8e">
<polygon points="409,797 406,803 412,803"/><polygon points="417,789 414,795 420,795"/><polygon points="457,786 454,792 460,792"/>
<polygon points="498,788 495,794 501,794"/><polygon points="561,786 558,792 564,792"/><polygon points="606,733 603,739 609,739"/><polygon points="670,675 667,681 673,681"/>
</g>
<text x="479" y="764" font-size="11.5" text-anchor="middle">Pristine LM-PHEA hydorgel</text>
<text x="523" y="709" font-size="11.5" text-anchor="middle">Dehydrated LM-PHEA composite</text>
<text x="522" y="659" font-size="11.5" text-anchor="middle">Drying</text>
<line x1="480" y1="665" x2="584" y2="665" stroke="#111" stroke-width="1.3"/>
<polygon points="582,662 591,665 582,668" fill="#111"/>

<!-- ========== PANEL G ========== -->
<text x="751" y="627" font-size="25">g</text>
<g stroke="#333" stroke-width="1.5">
<line x1="803" y1="852" x2="803" y2="857"/><line x1="860.2" y1="852" x2="860.2" y2="857"/><line x1="917.5" y1="852" x2="917.5" y2="857"/><line x1="974.7" y1="852" x2="974.7" y2="857"/><line x1="1032" y1="852" x2="1032" y2="857"/>
<line x1="798" y1="852" x2="803" y2="852"/><line x1="798" y1="798.5" x2="803" y2="798.5"/><line x1="798" y1="745" x2="803" y2="745"/><line x1="798" y1="691.5" x2="803" y2="691.5"/><line x1="798" y1="638" x2="803" y2="638"/>
</g>
<g font-size="15" text-anchor="end">
<text x="796" y="857">0.0</text><text x="796" y="803.5">0.3</text><text x="796" y="750">0.6</text><text x="796" y="696.5">0.9</text><text x="796" y="643">1.2</text>
</g>
<g font-size="15" text-anchor="middle">
<text x="803" y="871">0</text><text x="860.2" y="871">200</text><text x="917.5" y="871">400</text><text x="974.7" y="871">600</text><text x="1032" y="871">800</text>
</g>
<text x="929" y="894" font-size="16" text-anchor="middle">Strain (%)</text>
<text transform="translate(771,744) rotate(-90)" font-size="16" text-anchor="middle">Stress (MPa)</text>
<g fill="none" stroke-width="1.6" stroke-linejoin="round">
<polyline stroke="#7a8cc0" points="803,852 805,843 808.7,834.2 817.3,821.7 831.6,812.8 860.2,800.3 888.9,787.8 917.5,773.5 946.1,755.7 974.7,732.5 1003.3,698.7 1031.5,652.3"/>
<polyline stroke="#c4545c" points="803,852 805,845 808.7,836 817.3,825.3 831.6,818.1 860.2,809.2 888.9,800.3 917.5,789.6 946.1,775.3 974.7,755.7 1003.3,730.8 1020.5,714.7 1037.7,702.2"/>
<polyline stroke="#f0b43c" points="803,852 808.7,843.1 817.3,836.8 831.6,832.4 860.2,826.1 888.9,819.9 917.5,812.8 946.1,802.1 974.7,787.8 1003.3,768.2 1026.2,748.6 1035.4,736.1 1036.3,745 1034,741"/>
<polyline stroke="#5daa8e" points="803,852 808.7,848.4 817.3,844 831.6,840.4 860.2,834.2 888.9,827.9 916,821.7"/>
</g>
<rect x="803" y="638" width="266" height="214" fill="none" stroke="#333" stroke-width="1.6"/>
<text x="826" y="665" font-size="14">W<tspan font-size="8" dy="3">LM</tspan></text>
<g stroke-width="1.8">
<line x1="829" y1="678" x2="851" y2="678" stroke="#5daa8e"/>
<line x1="829" y1="695" x2="851" y2="695" stroke="#f0b43c"/>
<line x1="829" y1="711" x2="851" y2="711" stroke="#c4545c"/>
<line x1="829" y1="727" x2="851" y2="727" stroke="#7a8cc0"/>
</g>
<g font-size="13.5">
<text x="853" y="683">0 wt%</text><text x="853" y="700">1 wt%</text><text x="853" y="716">2 wt%</text><text x="853" y="732">3 wt%</text>
</g>
</svg>
</body></html>
